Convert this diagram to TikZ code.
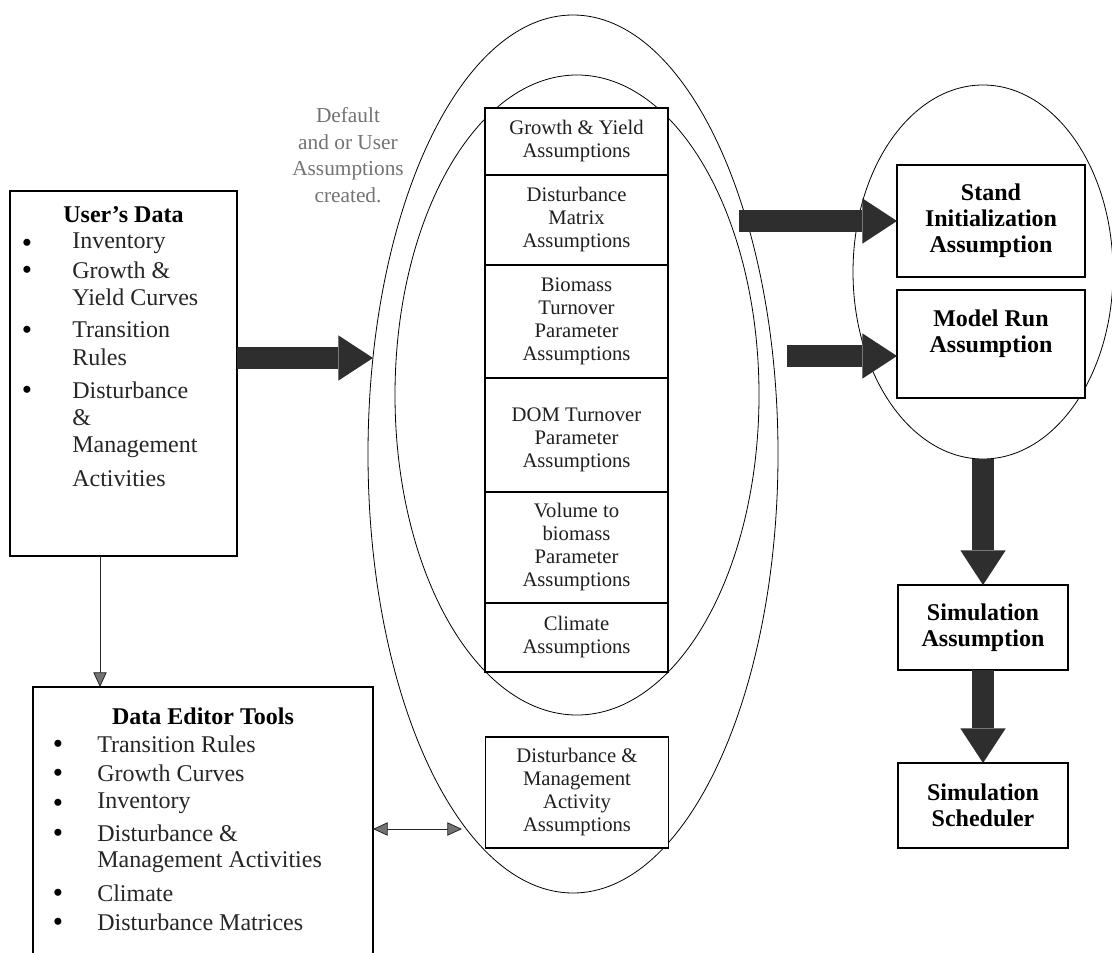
\documentclass[tikz,border=0pt]{standalone}
\usepackage{fontspec}
\setmainfont{Liberation Serif}
\usepackage{tikz}
\usetikzlibrary{shapes.geometric,arrows.meta}

\newcommand{\colfont}{\fontsize{15.5}{17.25}\selectfont}
\newcommand{\listfont}{\fontsize{18}{21.75}\selectfont}
\newcommand{\rightfont}{\bfseries\fontsize{18}{19.5}\selectfont}
\newcommand{\notefont}{\fontsize{16}{20}\selectfont}

\tikzset{
  abox/.style={draw, line width=0.9pt, fill=white, inner sep=0pt, outer sep=0pt},
  colbox/.style={abox, minimum width=137.25pt, align=center, font=\colfont, text=black!88},
  rbox/.style={abox, align=center, font=\rightfont},
  oval/.style={ellipse, draw, line width=0.6pt, inner sep=0pt, outer sep=0pt},
  item/.style={anchor=west, inner sep=0pt, font=\listfont, text=black!85},
  bul/.style={inner sep=0pt, font=\fontsize{22}{22}\selectfont, yshift=-2pt},
  ttl/.style={inner sep=0pt, font=\listfont\bfseries},
  fatarrow/.style={line width=17pt, black!82, -{Triangle[length=26pt,width=34pt,line width=0pt]}},
  thinarrow/.style={line width=0.6pt, black!85, -{Triangle[length=11pt,width=10pt,fill=black!55]}},
  dblarrow/.style={line width=0.6pt, black!85, {Triangle[length=11pt,width=10pt,fill=black!55]}-{Triangle[length=11pt,width=10pt,fill=black!55]}}
}

\begin{document}
\begin{tikzpicture}[x=0.75pt,y=0.75pt,yscale=-1,xscale=1]
\useasboundingbox (0,0) rectangle (1112,952);
\clip (0,0) rectangle (1112,952);

% ovals
\node[oval, minimum width=307.5pt, minimum height=658.5pt] (outerOval) at (573,454) {};
\node[oval, minimum width=273pt, minimum height=480pt] (innerOval) at (577,395) {};
\node[oval, minimum width=195pt, minimum height=280.5pt] (rightOval) at (983,272) {};

% user data
\node[abox, minimum width=170.25pt, minimum height=273.75pt] (userData) at (123.5,373.5) {};
\node[ttl] (udTitle) at (123.5,215) {User's Data};
\foreach \yy [count=\i] in {243,270,330,390}
  \node[bul] (udBul\i) at (27,\yy) {\textbullet};
\foreach \yy/\txt [count=\i] in {243/Inventory,270/Growth \&,297/Yield Curves,330/Transition,357/Rules,390/Disturbance,418/\&,447/Management,479/Activities}
  \node[item] (udItem\i) at (72,\yy) {\txt};

% data editor
\node[abox, minimum width=255pt, minimum height=216pt] (edTools) at (203,831) {};
\node[ttl] (edTitle) at (203,716) {Data Editor Tools};
\foreach \yy [count=\i] in {744,773,803,833,893,922}
  \node[bul] (edBul\i) at (58,\yy) {\textbullet};
\foreach \yy/\txt [count=\i] in {744/Transition Rules,773/Growth Curves,803/Inventory,833/Disturbance \&,862/Management Activities,893/Climate,922/Disturbance Matrices}
  \node[item] (edItem\i) at (97,\yy) {\txt};

\node[align=center, font=\notefont, text=black!55, inner sep=0pt] (noteTxt) at (348,155) {Default\\and or User\\Assumptions\\created.};

% assumption column
\node[colbox, minimum height=50.25pt] (gyBox) at (576.5,141.5) {Growth \& Yield\\Assumptions};
\node[colbox, minimum height=67.5pt] (dmBox) at (576.5,220) {Disturbance\\Matrix\\Assumptions};
\node[colbox, minimum height=84.75pt] (btBox) at (576.5,321.5) {Biomass\\Turnover\\Parameter\\Assumptions};
\node[colbox, minimum height=85.5pt] (domBox) at (576.5,435) {\mbox{}\\DOM Turnover\\Parameter\\Assumptions};
\node[colbox, minimum height=83.25pt] (vbBox) at (576.5,547.5) {Volume to\\biomass\\Parameter\\Assumptions};
\node[colbox, minimum height=51.75pt] (clBox) at (576.5,637.5) {Climate\\Assumptions};
\node[colbox, minimum height=83.25pt] (dmaBox) at (577,792.5) {Disturbance \&\\Management\\Activity\\Assumptions};

% right side
\node[rbox, minimum width=141pt, minimum height=84pt] (standBox) at (991,221) {Stand\\Initialization\\Assumption};
\node[rbox, minimum width=141pt, minimum height=81pt] (modelBox) at (991,344) {Model Run\\Assumption\\\mbox{}};
\node[rbox, minimum width=127.5pt, minimum height=63.75pt] (simBox) at (983,627.5) {Simulation\\Assumption};
\node[rbox, minimum width=127.5pt, minimum height=63.75pt] (schedBox) at (983,805.5) {Simulation\\Scheduler};

% arrows
\coordinate (inTip) at (373,358);
\coordinate (siTail) at (739,221);
\coordinate (mrTail) at (787,356);
\coordinate (udOut) at (100,556);
\coordinate (dblEnd) at (462,829);
\draw[fatarrow] (userData.east |- inTip) -- (inTip);
\draw[fatarrow] (siTail) -- (standBox.west);
\draw[fatarrow] (mrTail) -- (mrTail -| modelBox.west);
\draw[fatarrow] (rightOval.south) -- (rightOval.south |- simBox.north);
\draw[fatarrow] (rightOval.south |- simBox.south) -- (rightOval.south |- schedBox.north);
\draw[thinarrow] (udOut) -- (udOut |- edTools.north);
\draw[dblarrow] (edTools.east |- dblEnd) -- (dblEnd);
\end{tikzpicture}
\end{document}
